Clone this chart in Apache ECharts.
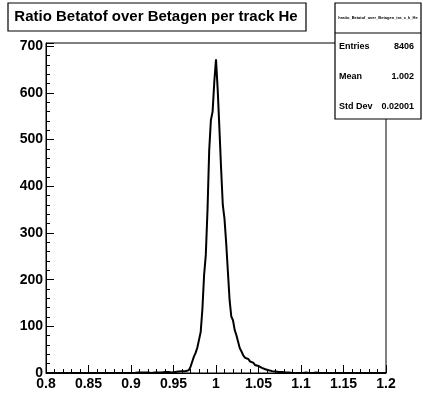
<!DOCTYPE html>
<html><head><meta charset="utf-8">
<script src="https://cdn.jsdelivr.net/npm/echarts@6/dist/echarts.min.js"></script>
<style>html,body{margin:0;padding:0;background:#fff}#c{width:423px;height:397px}</style>
</head><body><div id="c"></div>
<script>
const titleText = "Ratio Betatof over Betagen per track He";
const histName = "hratio_Betatof_over_Betagen_tra_c_k_He";
const statLabels = ["Entries", "Mean", "Std Dev"];
const statValues = ["8406", "1.002", "0.02001"];
const xMin = 0.8, xMax = 1.2, binWidth = 0.002;
const yMax = 707;
// bin contents, 200 bins from 0.8 to 1.2
const counts = [
  0,0,0,0,0,0,0,0,0,0, 0,0,0,0,0,0,0,0,0,0,
  0,0,0,0,0,0,0,0,0,0, 0,0,0,0,0,0,0,0,0,0,
  0,0,0,0,0,0,0,0,0,0, 1,0,0,1,0,1,0,1,0,1,
  1,0,1,1,0,1,2,1,1,2, 1,2,2,1,3,2,2,3,3,4,
  3,4,5,6,9,13,24,35,43,54, 71,88,137,210,253,349,477,542,560,624,
  672,607,524,438,360,330,278,217,156,121, 113,92,81,67,53,46,38,33,30,28,
  25,22,20,17,15,13,11,9,8,7, 6,5,4,4,3,3,2,2,2,1,
  1,2,1,1,0,1,0,1,0,1, 0,0,1,0,0,0,0,0,1,0,
  0,0,0,0,0,0,0,0,0,0, 0,0,0,0,0,0,0,0,0,0,
  0,0,0,0,0,0,0,0,0,0, 0,0,0,0,0,0,0,0,0,0
];

const font = "'Liberation Sans', Arial, sans-serif";
const data = counts.map((v, i) => [+(xMin + i * binWidth).toFixed(6), v]);
data.push([xMax, counts[counts.length - 1]]);

const chart = echarts.init(document.getElementById('c'), null, {renderer: 'canvas'});
chart.setOption({
  animation: false,
  backgroundColor: '#fff',
  grid: {left: 46, right: 37, top: 43, bottom: 24, show: true, borderColor: '#000', borderWidth: 1, backgroundColor: 'transparent'},
  xAxis: {
    type: 'value', min: xMin, max: xMax, interval: 0.05,
    axisLine: {show: true, onZero: false, lineStyle: {color: '#000', width: 1}},
    axisTick: {show: true, inside: true, length: 8, lineStyle: {color: '#000'}},
    minorTick: {show: true, splitNumber: 5, length: 4, lineStyle: {color: '#000'}},
    splitLine: {show: false},
    axisLabel: {color: '#000', fontFamily: font, fontWeight: 'bold', fontSize: 14, margin: 4,
      formatter: v => String(+v.toFixed(2))}
  },
  yAxis: {
    type: 'value', min: 0, max: yMax, interval: 100,
    axisLine: {show: true, lineStyle: {color: '#000', width: 1}},
    axisTick: {show: true, inside: true, length: 8, lineStyle: {color: '#000'}},
    minorTick: {show: true, splitNumber: 5, length: 4, lineStyle: {color: '#000'}},
    splitLine: {show: false},
    axisLabel: {color: '#000', fontFamily: font, fontWeight: 'bold', fontSize: 14, margin: 3,
      showMaxLabel: false, formatter: v => (v % 100 === 0 ? String(v) : '')}
  },
  series: [{
    type: 'line', step: 'end', data: data, symbol: 'none',
    lineStyle: {color: '#000', width: 2, join: 'miter', cap: 'butt'}, z: 3
  }],
  graphic: [
    {type: 'rect', shape: {x: 8, y: 3, width: 298, height: 28}, style: {fill: '#fff', stroke: '#000', lineWidth: 1.2}, z: 10},
    {type: 'text', x: 156, y: 17, style: {text: titleText, fill: '#000', font: "bold 15px " + font, textAlign: 'center', textVerticalAlign: 'middle'}, z: 11},
    {type: 'rect', shape: {x: 335, y: 3, width: 86, height: 116}, style: {fill: '#fff', stroke: '#000', lineWidth: 1.2}, z: 10},
    {type: 'line', shape: {x1: 335, y1: 33, x2: 421, y2: 33}, style: {stroke: '#000', lineWidth: 1}, z: 11},
    {type: 'text', x: 378, y: 18, style: {text: histName, fill: '#000', font: "bold 4px " + font, textAlign: 'center', textVerticalAlign: 'middle'}, z: 11},
    ...statLabels.map((t, i) => ({type: 'text', x: 339, y: 47 + i * 30, style: {text: t, fill: '#000', font: "bold 9px " + font, textAlign: 'left', textVerticalAlign: 'middle'}, z: 11})),
    ...statValues.map((t, i) => ({type: 'text', x: 414, y: 47 + i * 30, style: {text: t, fill: '#000', font: "bold 9px " + font, textAlign: 'right', textVerticalAlign: 'middle'}, z: 11}))
  ]
});
</script></body></html>
